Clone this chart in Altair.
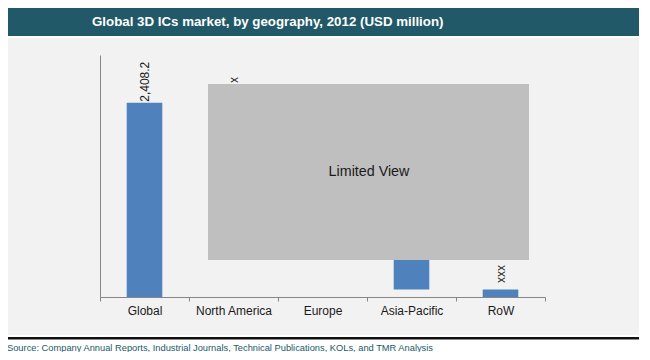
import altair as alt
import pandas as pd

# ---- data ----
categories = ["Global", "North America", "Europe", "Asia-Pacific", "RoW"]
bar_start = [0, 1450, 720, 92, 0]
bar_end = [2408.2, 2408.2, 1450, 720, 92]
labels = ["2,408.2", "x", "xx", "xx", "xxx"]
label_value = [2420, 2653, 1470, 740, 174]

title_text = "Global 3D ICs market, by geography, 2012 (USD million)"
source_text = ("Source: Company Annual Reports, Industrial Journals, Technical "
               "Publications, KOLs, and TMR Analysis")

df = pd.DataFrame({"category": categories, "start": bar_start, "end": bar_end,
                   "label": labels, "label_value": label_value})

FONT = "Liberation Sans"
TEAL = "#215968"
AXIS_GRAY = "#868686"
one = alt.Data(values=[{"k": 1}])

x_axis = alt.Axis(zindex=1, tickBand="extent", labelAngle=0, labelFont=FONT,
                  labelFontSize=12, labelColor="#1a1a1a", tickSize=4, labelPadding=4,
                  domainColor=AXIS_GRAY, tickColor=AXIS_GRAY, grid=False, title=None)
y_axis = alt.Axis(zindex=1, labels=False, ticks=False, grid=False,
                  domainColor=AXIS_GRAY, title=None)

x_enc = alt.X("category:N", sort=categories, title=None, axis=x_axis,
              scale=alt.Scale(paddingInner=0, paddingOuter=0))

# ---- decoration (frame) ----
panel = alt.Chart(one).mark_rect(color="#f2f2f2").encode(
    x=alt.value(-92), x2=alt.value(539), y=alt.value(-17), y2=alt.value(280))
title_bar = alt.Chart(one).mark_rect(color=TEAL).encode(
    x=alt.value(-92), x2=alt.value(539), y=alt.value(-47), y2=alt.value(-19))
bottom_line = alt.Chart(one).mark_rect(color="#111111").encode(
    x=alt.value(-92), x2=alt.value(539), y=alt.value(282), y2=alt.value(284.5))
title = alt.Chart(one).mark_text(font=FONT, fontSize=13.3, fontWeight="bold",
                                 color="white", align="left", baseline="middle").encode(
    x=alt.value(-8), y=alt.value(-33), text=alt.value(title_text))
source = alt.Chart(one).mark_text(font=FONT, fontSize=9.3, color=TEAL,
                                  align="left", baseline="middle").encode(
    x=alt.value(-93), y=alt.value(293), text=alt.value(source_text))

# ---- data marks ----
bars = alt.Chart(df).mark_bar(color="#4f81bd", width=alt.RelativeBandSize(0.4)).encode(
    x=x_enc,
    y=alt.Y("start:Q", title=None, axis=y_axis,
            scale=alt.Scale(domain=[0, 3000], nice=False, zero=True)),
    y2="end:Q",
)
bar_labels = alt.Chart(df).mark_text(font=FONT, fontSize=12, color="#1a1a1a", angle=270,
                                     align="left", baseline="middle").encode(
    x=x_enc,
    y=alt.Y("label_value:Q", title=None, axis=y_axis),
    text="label:N",
)

# ---- limited view overlay ----
veil = alt.Chart(one).mark_rect(color="#bfbfbf").encode(
    x=alt.value(108), x2=alt.value(429), y=alt.value(29), y2=alt.value(205))
veil_text = alt.Chart(one).mark_text(font=FONT, fontSize=14.3, color="#1a1a1a",
                                     align="center", baseline="middle").encode(
    x=alt.value(269), y=alt.value(117), text=alt.value("Limited View"))

chart = alt.layer(panel, title_bar, bottom_line, title, source, bars, bar_labels,
                  veil, veil_text).properties(
    width=445, height=242,
    autosize=alt.AutoSizeParams(type="none"),
    padding={"left": 92, "top": 47, "right": 97, "bottom": 55},
    background="white",
).configure_view(stroke=None)

chart.save("out.html", embed_options={"renderer": "svg", "actions": False})
